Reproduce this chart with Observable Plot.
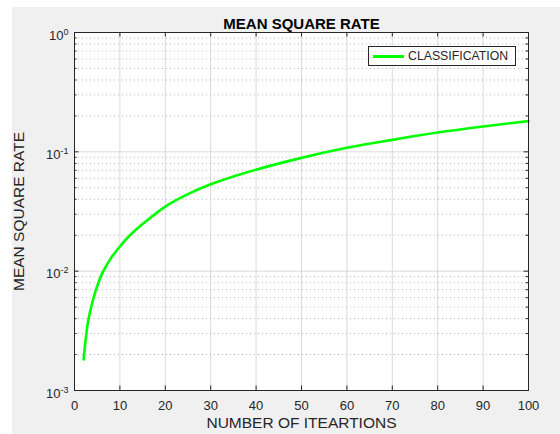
<!DOCTYPE html>
<html><head><meta charset="utf-8">
<script src="https://cdn.jsdelivr.net/npm/d3@7"></script>
<script src="https://cdn.jsdelivr.net/npm/@observablehq/plot@0.6"></script>
<style>
html,body{margin:0;padding:0;background:#fff;width:560px;height:434px;overflow:hidden;}
#bg{position:absolute;left:12px;top:7px;width:548px;height:427px;background:#f0f0f0;}
#chart{position:absolute;left:0;top:0;}
#legend{position:absolute;left:368px;top:46px;width:146px;height:18px;background:#fff;border:1px solid #262626;box-sizing:content-box;font-family:"Liberation Sans",Arial,sans-serif;font-size:12.3px;color:#262626;}
#legend .sw{position:absolute;left:4px;top:8px;width:31px;height:3px;background:#00ff00;}
#legend .lb{position:absolute;left:39px;top:2px;line-height:14px;}
</style></head><body>
<div id="bg"></div><div id="chart"></div>
<div id="legend"><div class="sw"></div><div class="lb"></div></div>
<script>
const iterations = [2, 3, 4, 5, 6, 7, 8, 10, 12, 15, 20, 25, 30, 40, 50, 60, 70, 80, 90, 100];
const msr = [0.00182, 0.0038, 0.0056, 0.0075, 0.0094, 0.0111, 0.0128, 0.0161, 0.0196, 0.0248, 0.0348, 0.0442, 0.0535, 0.0708, 0.089, 0.108, 0.126, 0.145, 0.163, 0.181];
const seriesName = "CLASSIFICATION";
const titleText = "MEAN SQUARE RATE";
const xLabel = "NUMBER OF ITEARTIONS";
const yLabel = "MEAN SQUARE RATE";
const xTicks = [0, 10, 20, 30, 40, 50, 60, 70, 80, 90, 100];
const yTicks = [1e-3, 1e-2, 1e-1, 1];
const yTickLabels = ["10^-3", "10^-2", "10^-1", "10^0"];

document.querySelector("#legend .lb").textContent = seriesName;

const data = iterations.map((x, i) => ({x, y: msr[i]}));
const yMinor = d3.scaleLog().domain([1e-3, 1]).ticks().filter(v => !yTicks.some(t => Math.abs(t - v) / t < 1e-9));

const W = 560, H = 434, mL = 74, mR = 32, mT = 32, mB = 44;
const fw = W - mL - mR, fh = H - mT - mB;
const axisColor = "#262626";
const font = "'Liberation Sans', Arial, Helvetica, sans-serif";

const svg = Plot.plot({
  width: W, height: H,
  marginLeft: mL, marginRight: mR, marginTop: mT, marginBottom: mB,
  style: {background: "transparent", fontFamily: font, color: axisColor, overflow: "visible"},
  x: {domain: [0, 100]},
  y: {type: "log", domain: [1e-3, 1]},
  marks: [
    Plot.frame({fill: "white", stroke: "none"}),
    Plot.gridX(xTicks, {stroke: "#dadada", strokeOpacity: 1, strokeWidth: 1}),
    Plot.ruleY(yMinor, {stroke: "#b8b8b8", strokeDasharray: "1,3", strokeWidth: 1}),
    Plot.ruleY(yTicks, {stroke: "#dadada", strokeWidth: 1}),
    Plot.line(data, {x: "x", y: "y", stroke: "#00ff00", strokeWidth: 2.6, curve: "catmull-rom"}),
    Plot.tickX(xTicks, {x: d => d, insetTop: fh - 4.5, stroke: axisColor}),
    Plot.tickX(xTicks, {x: d => d, insetBottom: fh - 4.5, stroke: axisColor}),
    Plot.tickY(yTicks, {y: d => d, insetRight: fw - 4.5, stroke: axisColor}),
    Plot.tickY(yTicks, {y: d => d, insetLeft: fw - 4.5, stroke: axisColor}),
    Plot.tickY(yMinor, {y: d => d, insetRight: fw - 2.5, stroke: axisColor}),
    Plot.tickY(yMinor, {y: d => d, insetLeft: fw - 2.5, stroke: axisColor}),
    Plot.frame({stroke: axisColor, strokeWidth: 1}),
    Plot.axisX({ticks: xTicks, tickSize: 0, tickPadding: 10, fontSize: 13, label: null, tickFormat: d => String(d)}),
    Plot.axisY({ticks: yTicks, tickSize: 0, tickPadding: 6, fontSize: 13, label: null, dy: 3,
      tickFormat: d => yTickLabels[yTicks.indexOf(d)]}),
    Plot.text([titleText], {frameAnchor: "top", dy: -14, fontSize: 15, fontWeight: "bold", fill: "#000"}),
    Plot.text([xLabel], {frameAnchor: "bottom", dy: 37, fontSize: 15.5, fill: axisColor}),
    Plot.text([yLabel], {frameAnchor: "left", textAnchor: "middle", dx: -55, rotate: -90, fontSize: 15.5, fill: axisColor})
  ]
});

d3.select(svg).selectAll('g[aria-label="y-axis tick label"] text').each(function() {
  const s = this.textContent;
  const [base, exp] = s.split("^");
  this.textContent = "";
  d3.select(this).append("tspan").text(base);
  d3.select(this).append("tspan").attr("dy", -5).attr("font-size", 9).text(exp);
});

document.getElementById("chart").appendChild(svg);
</script>
</body></html>
